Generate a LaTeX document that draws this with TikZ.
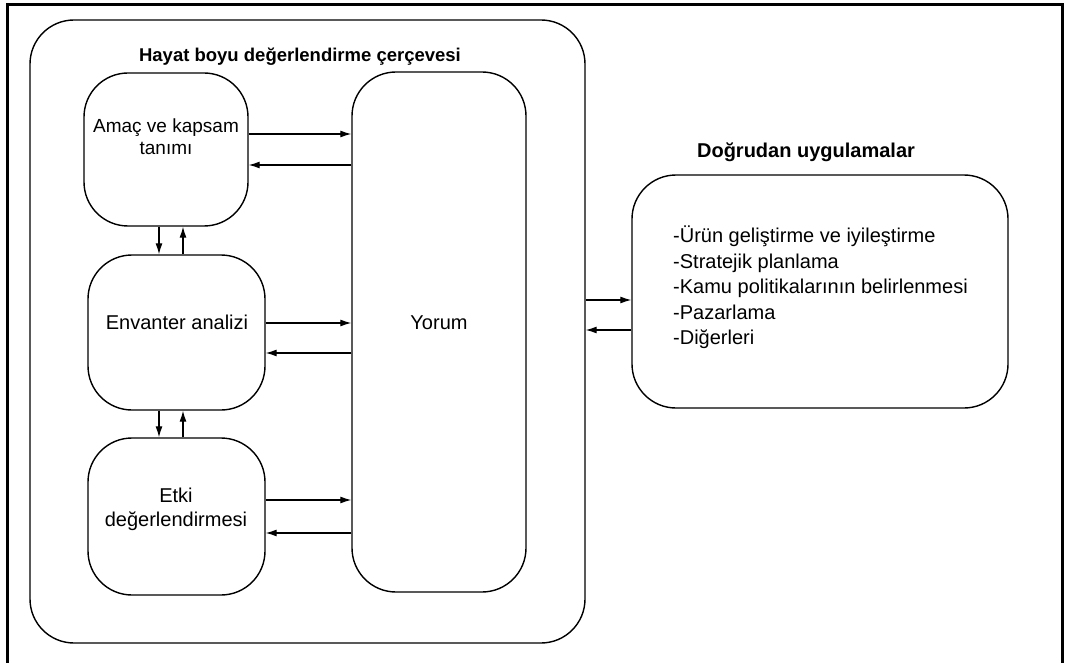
\documentclass[tikz,border=0pt]{standalone}
\usepackage{fontspec}
\setmainfont{Liberation Sans}
\usetikzlibrary{arrows.meta}
\tikzset{
  rbox/.style={draw, line width=1.4pt, rounded corners=44pt, inner sep=0pt},
  txt/.style={font=\fontsize{20}{24}\selectfont, align=center, inner sep=0pt},
  ttl/.style={font=\fontsize{18.5}{22}\selectfont\bfseries, inner sep=0pt, anchor=base},
  arr/.style={line width=1.1pt, -{Latex[length=11pt,width=7pt]}},
}
\begin{document}
\begin{tikzpicture}[x=1pt,y=-1pt]
\useasboundingbox (0,0) rectangle (1065,663);
% outer frame (open at the bottom)
\draw[line width=3pt] (7,663) -- (7,5) -- (1062,5) -- (1062,663);
% boxes
\node[rbox, minimum width=164pt, minimum height=153pt] (amac) at (166,149.5) {};
\node[rbox, minimum width=555pt, minimum height=623pt] (frame) at (307.5,331.5) {};
\node[rbox, minimum width=177pt, minimum height=155pt] (env) at (176.5,332.5) {};
\node[rbox, minimum width=177pt, minimum height=157pt] (etki) at (176.5,516.5) {};
\node[rbox, minimum width=174pt, minimum height=520pt] (yorum) at (439,332) {};
\node[rbox, minimum width=376pt, minimum height=233pt] (app) at (820,291.5) {};
% texts
\node[ttl] (t1) at (300,62) {Hayat boyu değerlendirme çerçevesi};
\node[ttl, font=\fontsize{20}{24}\selectfont\bfseries] (t2) at (806,158) {Doğrudan uygulamalar};
\node[txt, font=\fontsize{19}{22}\selectfont] (ta) at (166,137) {Amaç ve kapsam\\tanımı};
\node[txt] (te) at (177,322) {Envanter analizi};
\node[txt] (tk) at (176,509) {Etki\\değerlendirmesi};
\node[txt] (ty) at (439,323) {Yorum};
\node[txt, font=\fontsize{20}{25.5}\selectfont, align=left, anchor=north west] (tl) at (673,226) {-Ürün geliştirme ve iyileştirme\\-Stratejik planlama\\-Kamu politikalarının belirlenmesi\\-Pazarlama\\-Diğerleri};
% arrows to/from Yorum
\draw[arr] (amac.east |- 0,134) -- (yorum.west |- 0,134);
\draw[arr] (yorum.west |- 0,165) -- (amac.east |- 0,165);
\draw[arr] (env.east |- 0,323) -- (yorum.west |- 0,323);
\draw[arr] (yorum.west |- 0,353) -- (env.east |- 0,353);
\draw[arr] (etki.east |- 0,500) -- (yorum.west |- 0,500);
\draw[arr] (yorum.west |- 0,533) -- (etki.east |- 0,533);
% vertical arrows
\draw[arr] (amac.south -| 159,0) -- (env.north -| 159,0);
\draw[arr] (env.north -| 183,0) -- (amac.south -| 183,0);
\draw[arr] (env.south -| 159,0) -- (etki.north -| 159,0);
\draw[arr] (etki.north -| 183,0) -- (env.south -| 183,0);
% arrows between frame and applications
\draw[arr] (frame.east |- 0,300) -- (app.west |- 0,300);
\draw[arr] (app.west |- 0,330) -- (frame.east |- 0,330);
\end{tikzpicture}
\end{document}
